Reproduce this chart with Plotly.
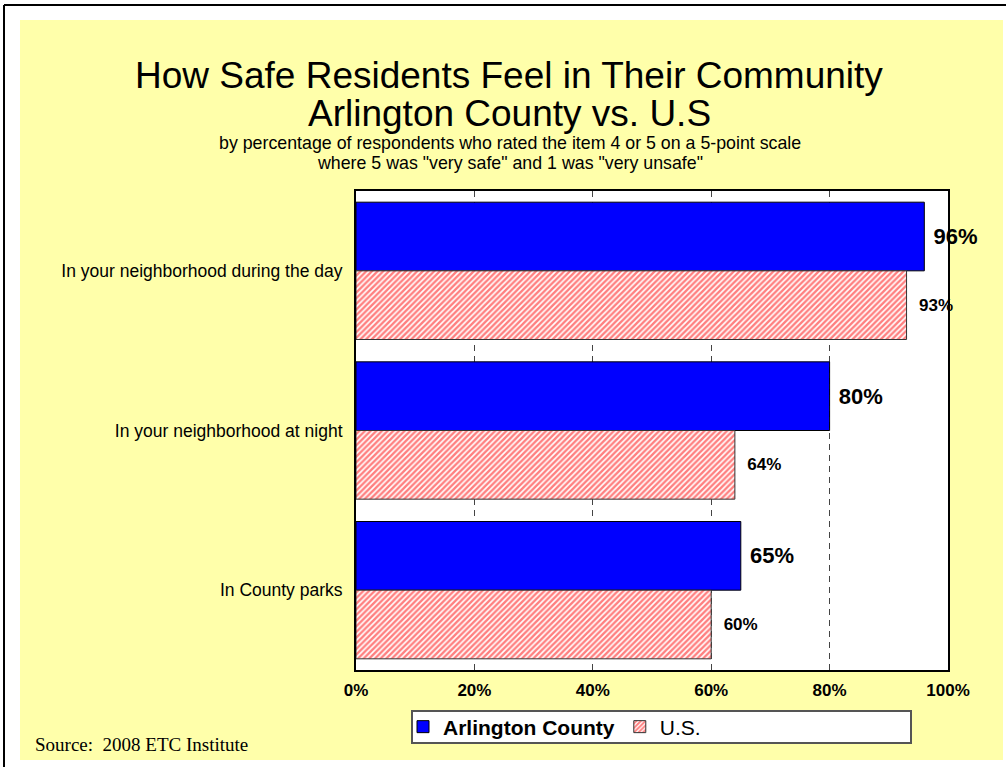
import plotly.graph_objects as go

categories = ["In your neighborhood during the day", "In your neighborhood at night", "In County parks"]
arlington = [96, 80, 65]
us = [93, 64, 60]
x_ticks = [0, 20, 40, 60, 80, 100]
x_ticktext = ["0%", "20%", "40%", "60%", "80%", "100%"]

W, H = 1007, 767
L, R, T, B = 356, 948, 191, 670
PW, PH = R - L, B - T


def px(x):
    return (x - L) / PW


def py(y):
    return (B - y) / PH


FONT = "Arial, Liberation Sans, sans-serif"
ypos = list(range(len(categories)))

fig = go.Figure()
fig.add_trace(go.Bar(
    y=ypos, x=arlington, orientation="h", name="<b>Arlington County</b>",
    marker=dict(color="#0000FF", line=dict(color="#000000", width=1)),
    text=[f" {v}%" for v in arlington], texttemplate="%{text}",
    textposition="outside", cliponaxis=False, constraintext="none",
    textfont=dict(family=FONT, size=22, color="black", weight="bold"),
    hoverinfo="x+y",
))
fig.add_trace(go.Bar(
    y=ypos, x=us, orientation="h", name="U.S.",
    marker=dict(color="white", line=dict(color="#333333", width=1),
                pattern=dict(shape="/", fgcolor="#FF0000", bgcolor="white", size=4, solidity=0.6)),
    text=[f"  {v}%" for v in us], texttemplate="%{text}",
    textposition="outside", cliponaxis=False, constraintext="none",
    textfont=dict(family=FONT, size=17, color="black", weight="bold"),
    hoverinfo="x+y",
))

shapes = [
    dict(type="rect", xref="paper", yref="paper", x0=px(20), x1=px(1003), y0=py(760), y1=py(20),
         fillcolor="#FFFFAA", line=dict(width=0), layer="below"),
    dict(type="rect", xref="paper", yref="paper", x0=0, x1=1, y0=0, y1=1,
         fillcolor="white", line=dict(width=0), layer="below"),
    dict(type="line", xref="paper", yref="paper", x0=px(4), x1=px(1006), y0=py(5), y1=py(5),
         line=dict(color="black", width=2)),
    dict(type="line", xref="paper", yref="paper", x0=px(4), x1=px(4), y0=py(5), y1=py(767),
         line=dict(color="black", width=2)),
    dict(type="rect", xref="paper", yref="paper", x0=px(412), x1=px(911), y0=py(743), y1=py(711),
         fillcolor="white", line=dict(color="#555555", width=2)),
]

annotations = [
    dict(text="How Safe Residents Feel in Their Community", x=px(509), y=py(76), xref="paper", yref="paper",
         showarrow=False, xanchor="center", yanchor="middle", font=dict(family=FONT, size=37, color="black")),
    dict(text="Arlington County vs. U.S", x=px(509), y=py(114), xref="paper", yref="paper",
         showarrow=False, xanchor="center", yanchor="middle", font=dict(family=FONT, size=37, color="black")),
    dict(text="by percentage of respondents who rated the item 4 or 5 on a 5-point scale", x=px(510), y=py(143),
         xref="paper", yref="paper", showarrow=False, xanchor="center", yanchor="middle",
         font=dict(family=FONT, size=17.8, color="black")),
    dict(text='where 5 was "very safe" and 1 was "very unsafe"', x=px(510), y=py(163),
         xref="paper", yref="paper", showarrow=False, xanchor="center", yanchor="middle",
         font=dict(family=FONT, size=17.8, color="black")),
    dict(text="Source:  2008 ETC Institute", x=px(33), y=py(744), xref="paper", yref="paper",
         showarrow=False, xanchor="left", yanchor="middle",
         font=dict(family="Times New Roman, Liberation Serif, serif", size=19, color="black")),
]

fig.update_layout(
    width=W, height=H,
    margin=dict(l=L, r=W - R, t=T, b=H - B, pad=0),
    paper_bgcolor="white", plot_bgcolor="white",
    barmode="group", bargap=0.14, bargroupgap=0,
    showlegend=True,
    legend=dict(orientation="h", x=px(403), y=py(727), xref="paper", yref="paper",
                xanchor="left", yanchor="middle", bgcolor="rgba(0,0,0,0)", borderwidth=0,
                font=dict(family=FONT, size=21, color="black"), traceorder="normal"),
    shapes=shapes, annotations=annotations,
    font=dict(family=FONT, color="black"),
    xaxis=dict(range=[0, 100], tickvals=x_ticks, ticktext=x_ticktext, showgrid=True,
               gridcolor="#444444", gridwidth=1, griddash="6px,5px", zeroline=False,
               showline=True, linecolor="black", linewidth=2, mirror=True, ticks="",
               ticklabelstandoff=4,
               tickfont=dict(family=FONT, size=17, color="black", weight="bold")),
    yaxis=dict(range=[2.5, -0.5], tickvals=ypos, ticktext=categories, showgrid=False, zeroline=False,
               showline=True, linecolor="black", linewidth=2, mirror=True, ticks="",
               ticklabelstandoff=8,
               tickfont=dict(family=FONT, size=17.5, color="black")),
)

fig.write_html("out.html", post_script="document.body.style.margin='0px';",
               config={"displayModeBar": False})
